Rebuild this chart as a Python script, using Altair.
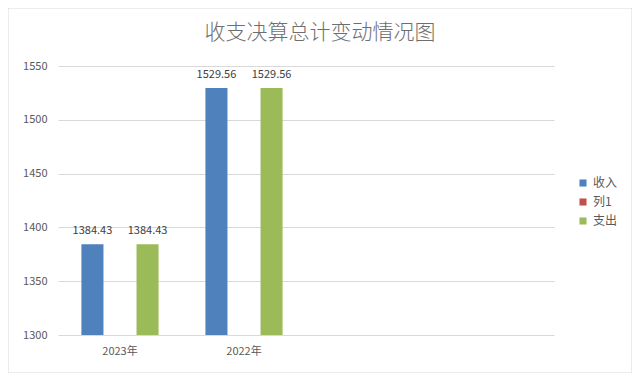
import altair as alt
import pandas as pd

title_text = "收支决算总计变动情况图"
categories = ["2023年", "2022年"]
slots = ["2023年", "2022年", "c3", "c4"]
series = ["收入", "列1", "支出"]
colors = ["#4F81BD", "#C0504D", "#9BBB59"]
income = [1384.43, 1529.56]
expense = [1384.43, 1529.56]

rows = []
for i, c in enumerate(categories):
    rows.append({"cat": c, "series": "收入", "value": income[i]})
    rows.append({"cat": c, "series": "支出", "value": expense[i]})
df = pd.DataFrame(rows)

FONT = "Noto Sans CJK SC"
GRAY = "#595959"

x = alt.X("cat:N", scale=alt.Scale(domain=slots, paddingInner=0, paddingOuter=0),
          axis=alt.Axis(title=None, labelAngle=0, ticks=False, domain=False,
                        labelPadding=10, labelFontSize=11, labelColor=GRAY, labelFont=FONT,
                        labelExpr="datum.value == 'c3' || datum.value == 'c4' ? '' : datum.value"))
xo = alt.XOffset("series:N", scale=alt.Scale(domain=series, paddingInner=0.2, paddingOuter=0.85))
y = alt.Y("value:Q", scale=alt.Scale(domain=[1300, 1550], nice=False, zero=False),
          axis=alt.Axis(title=None, values=[1300, 1350, 1400, 1450, 1500, 1550], ticks=False,
                        format="d", domain=False, labelPadding=11, labelFontSize=11,
                        labelColor=GRAY, labelFont=FONT, gridColor="#D9D9D9", gridWidth=1))
color = alt.Color("series:N", scale=alt.Scale(domain=series, range=colors),
                  legend=alt.Legend(title=None, orient="none", legendX=519, legendY=111,
                                    symbolType="square", symbolSize=50, symbolStrokeWidth=0,
                                    labelFontSize=12, labelColor=GRAY, labelFont=FONT,
                                    rowPadding=7, labelOffset=4))

bars = alt.Chart(df).mark_bar(clip=True).encode(x=x, xOffset=xo, y=y, color=color)
labels = alt.Chart(df).mark_text(dy=-13, fontSize=11, color="#404040", font=FONT).encode(
    x=x, xOffset=xo, y=y, text=alt.Text("value:Q", format=".2f"))

border = alt.Chart(pd.DataFrame({"a": [0]})).mark_rect(
    fill=None, stroke="#D9D9D9", strokeWidth=1, clip=False).encode(
    x=alt.value(-50), x2=alt.value(574), y=alt.value(-58), y2=alt.value(307))

title = alt.Chart(pd.DataFrame({"t": [title_text]})).mark_text(
    fontSize=21, color="#6E6E6E", font=FONT, fontWeight=300, align="center",
    baseline="middle").encode(x=alt.value(262), y=alt.value(-33), text="t:N")

chart = alt.layer(border, bars, labels, title).properties(
    width=496, height=269,
    padding={"left": 50, "top": 58, "right": 78, "bottom": 38},
    autosize="none",
).configure_view(stroke=None)

chart.save("out.html", embed_options={"renderer": "svg", "actions": False})
